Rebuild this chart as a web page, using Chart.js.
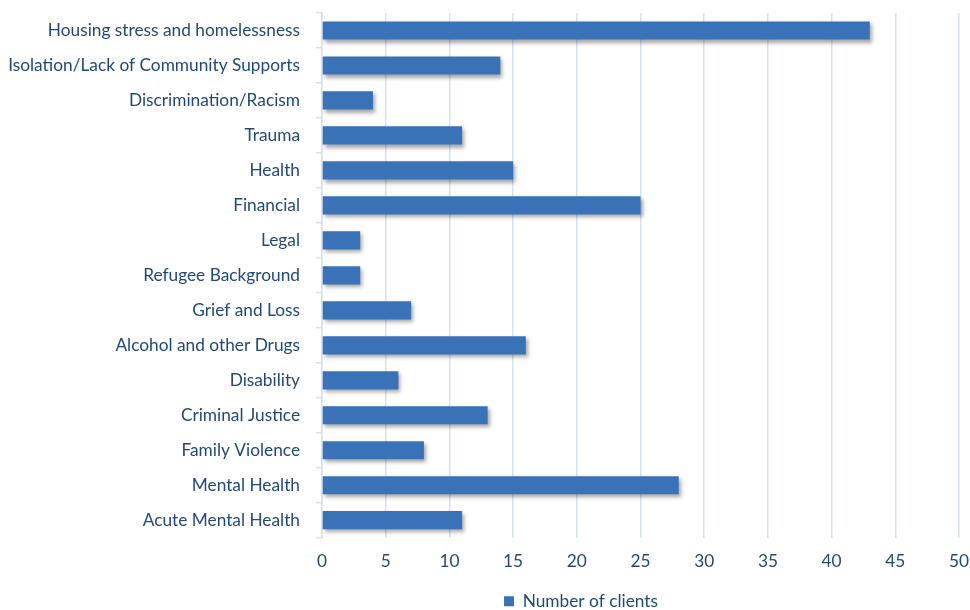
<!DOCTYPE html>
<html>
<head>
<meta charset="utf-8">
<script src="https://cdn.jsdelivr.net/npm/chart.js@4/dist/chart.umd.min.js"></script>
<style>
  html, body { margin: 0; padding: 0; background: #ffffff; }
  #wrap { width: 970px; height: 610px; position: relative; }
</style>
</head>
<body>
<div id="wrap"><canvas id="chart"></canvas></div>
<script>
// Presenting issues and number of clients for each
const categories = [
  'Housing stress and homelessness',
  'Isolation/Lack of Community Supports',
  'Discrimination/Racism',
  'Trauma',
  'Health',
  'Financial',
  'Legal',
  'Refugee Background',
  'Grief and Loss',
  'Alcohol and other Drugs',
  'Disability',
  'Criminal Justice',
  'Family Violence',
  'Mental Health',
  'Acute Mental Health'
];
const clients = [43, 14, 4, 11, 15, 25, 3, 3, 7, 16, 6, 13, 8, 28, 11];
const seriesName = 'Number of clients';
const xTicks = [0, 5, 10, 15, 20, 25, 30, 35, 40, 45, 50];

const textColor = '#1f497d';
const gridColor = '#d5e2f1';
const fontFamily = "Lato, 'Open Sans', sans-serif";
const fontSize = 17.3;

// Vertical shading on each bar
function barFill(context) {
  const chart = context.chart;
  const el = context.element;
  if (!chart.chartArea || !el || el.y === undefined) return '#3a72b8';
  const h = el.height || 18;
  const g = chart.ctx.createLinearGradient(0, el.y - h / 2, 0, el.y + h / 2);
  g.addColorStop(0, '#4d88cc');
  g.addColorStop(0.45, '#3a74bb');
  g.addColorStop(1, '#2b5b99');
  return g;
}

// Soft drop shadow under the bars
const barShadow = {
  id: 'barShadow',
  beforeDatasetsDraw(chart) {
    const ctx = chart.ctx;
    ctx.save();
    ctx.shadowColor = 'rgba(0,0,0,0.35)';
    ctx.shadowBlur = 4;
    ctx.shadowOffsetX = 2;
    ctx.shadowOffsetY = 3;
  },
  afterDatasetsDraw(chart) {
    chart.ctx.restore();
  }
};

// Move the legend right of the canvas centre and down to the bottom edge
const legendShift = {
  id: 'legendShift',
  afterLayout(chart) {
    const lg = chart.legend;
    if (!lg) return;
    const dx = 581 - (lg.left + lg.right) / 2;
    lg.left += dx;
    lg.right += dx;
    lg.top += 10;
    lg.bottom += 10;
  }
};

new Chart(document.getElementById('chart'), {
  type: 'bar',
  data: {
    labels: categories,
    datasets: [{
      label: seriesName,
      data: clients,
      backgroundColor: barFill,
      borderWidth: 0,
      barPercentage: 0.52,
      categoryPercentage: 1.0
    }]
  },
  options: {
    indexAxis: 'y',
    responsive: true,
    maintainAspectRatio: false,
    animation: false,
    layout: { padding: { left: 0, right: 11, top: 13, bottom: 0 } },
    scales: {
      x: {
        min: 0,
        max: 50,
        afterBuildTicks(axis) { axis.ticks = xTicks.map(v => ({ value: v })); },
        afterFit(axis) {
          axis.height = 45;
          axis.paddingLeft = 0;
          axis.paddingRight = 0;
        },
        grid: { color: gridColor, lineWidth: 1.5, drawTicks: false },
        border: { display: false },
        ticks: {
          color: textColor,
          font: { family: fontFamily, size: fontSize },
          padding: 13
        }
      },
      y: {
        offset: true,
        afterFit(axis) {
          axis.width = 322;
          axis.paddingTop = 0;
          axis.paddingBottom = 0;
        },
        grid: {
          offset: true,
          drawOnChartArea: false,
          drawTicks: true,
          tickLength: 6,
          color: gridColor,
          lineWidth: 1.5
        },
        border: { display: true, color: gridColor, width: 1.5 },
        ticks: {
          color: textColor,
          font: { family: fontFamily, size: fontSize },
          padding: 16,
          autoSkip: false
        }
      }
    },
    plugins: {
      legend: {
        position: 'bottom',
        labels: {
          color: textColor,
          font: { family: fontFamily, size: fontSize },
          boxWidth: 10,
          boxHeight: 10,
          padding: 0,
          generateLabels(chart) {
            return [{
              text: seriesName,
              fillStyle: '#3a72b8',
              strokeStyle: '#3a72b8',
              lineWidth: 0,
              datasetIndex: 0,
              fontColor: textColor
            }];
          }
        }
      },
      tooltip: { enabled: false }
    }
  },
  plugins: [barShadow, legendShift]
});
</script>
</body>
</html>
